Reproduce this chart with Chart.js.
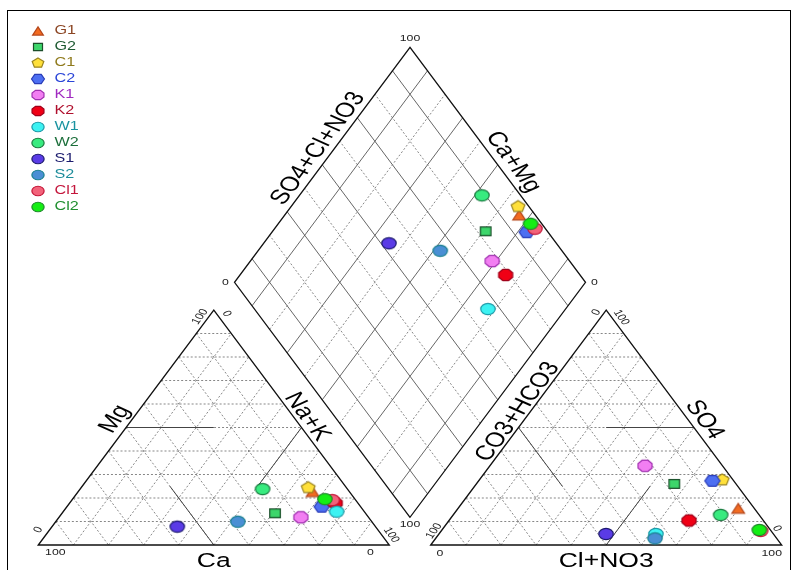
<!DOCTYPE html>
<html>
<head>
<meta charset="utf-8">
<title>Piper diagram</title>
<script src="https://cdn.jsdelivr.net/npm/chart.js@4.4.0/dist/chart.umd.min.js"></script>
<style>
  html, body { margin: 0; padding: 0; background: #fff; }
</style>
</head>
<body>
<canvas id="piper" width="797" height="570"></canvas>
<script>
// samples, drawn in this order (later ones end up on top)
const samples = ['G1', 'G2', 'C1', 'C2', 'K1', 'K2', 'W1', 'W2', 'S1', 'S2', 'Cl1', 'Cl2'];

// cations, % of meq/l
const caPct  = [10.5, 25.8, 10.9, 11.1, 19.3,  6.5,  7.9, 24.2, 56.5, 38.2,  6.7,  8.6];
const mgPct  = [22.7, 13.5, 24.4, 16.3, 11.8, 17.8, 14.2, 23.8,  7.8,  9.9, 19.1, 19.5];
const naKPct = [66.8, 60.7, 64.7, 72.6, 68.9, 75.7, 77.9, 52.0, 35.7, 51.9, 74.2, 71.9];

// anions, % of meq/l
const clNo3Pct   = [79.8, 56.4, 69.2, 66.6, 44.2, 68.4, 61.8, 76.2, 47.6, 62.5, 91.0, 90.4];
const so4Pct     = [15.6, 26.0, 27.7, 27.3, 33.7, 10.4,  4.7, 12.8,  4.7,  2.8,  6.0,  6.4];
const co3Hco3Pct = [ 4.6, 17.6,  3.1,  6.1, 22.1, 21.2, 33.5, 11.0, 47.7, 34.7,  3.0,  3.2];

// end labels on every axis
const tickLabels = ['0', '100'];

const markerShapes = ['triangle', 'square', 'pentagon', 'hexagon', 'octagon', 'octagon',
                      'circle', 'circle', 'circle', 'circle', 'circle', 'circle'];
const fillColors  = ['#f26b21', '#3dd66b', '#ffe03a', '#4d6ff2', '#f27ef2', '#f00015',
                     '#3cf2f2', '#38eb7f', '#5a3be6', '#4a8fd4', '#f2627a', '#14ee14'];
const edgeColors  = ['#b5461a', '#1b4d2a', '#9a8420', '#2a3db8', '#a030b0', '#a0001a',
                     '#1c9aa8', '#1b7a40', '#1d1a70', '#1a8090', '#c41436', '#1e8c2a'];
const labelColors = ['#8b4523', '#1e5a32', '#8f7a1c', '#2a45d8', '#a02ac0', '#b0102e',
                     '#1a93a0', '#1b6e3a', '#1c1c6e', '#1c8c9a', '#c4163c', '#1f8f2f'];

// ---- geometry: x in % of a triangle side, y in the same units (equilateral) ----
const H = Math.sqrt(3) / 2;
const GAP = 11.8;           // space between the two triangles
const OFF = 100 + GAP;      // left corner of the anion triangle

// page is wider than an equilateral layout would be
const PLOT_LEFT = 38.3, BASE_Y = 545, SIDE_PX = 351, HEIGHT_PX = 235;
const W = 797, HT = 570;
const XMIN = -PLOT_LEFT / (SIDE_PX / 100);
const XMAX = (W - PLOT_LEFT) / (SIDE_PX / 100);
const YMIN = -(HT - BASE_Y) / (HEIGHT_PX / (100 * H));
const YMAX = BASE_Y / (HEIGHT_PX / (100 * H));
const STRETCH = (SIDE_PX / 100) / (HEIGHT_PX / (100 * H));

function cationXY(ca, mg, na) { return { x: na + mg / 2, y: mg * H }; }
function anionXY(cl, so4, co3) { return { x: OFF + cl + so4 / 2, y: so4 * H }; }
// cm = Ca+Mg, sc = SO4+Cl+NO3
function diamondXY(cm, sc) {
  const u = cm / 100, v = sc / 100;
  return { x: 100 + GAP / 2 + 50 * (v - u), y: GAP * H + 100 * H * (u + v) };
}

// ---- markers ----
const markerSize = {
  circle:   [7.2, 5.6],
  square:   [5.3, 4.3],
  triangle: [6.3, 4.8],
  pentagon: [7.2, 6.0],
  hexagon:  [7.6, 6.3],
  octagon:  [7.6, 6.0]
};

function drawMarker(ctx, shape, cx, cy, k, fill, edge) {
  const rx = markerSize[shape][0] * k, ry = markerSize[shape][1] * k;
  ctx.beginPath();
  if (shape === 'circle') {
    ctx.ellipse(cx, cy, rx, ry, 0, 0, Math.PI * 2);
  } else if (shape === 'square') {
    ctx.rect(cx - rx, cy - ry, rx * 2, ry * 2);
  } else if (shape === 'triangle') {
    ctx.moveTo(cx, cy - ry);
    ctx.lineTo(cx + rx, cy + ry);
    ctx.lineTo(cx - rx, cy + ry);
    ctx.closePath();
  } else {
    const n = { pentagon: 5, hexagon: 6, octagon: 8 }[shape];
    const start = { pentagon: -90, hexagon: 0, octagon: 22.5 }[shape] * Math.PI / 180;
    for (let j = 0; j < n; j++) {
      const a = start + j * 2 * Math.PI / n;
      const x = cx + rx * Math.cos(a), y = cy + ry * Math.sin(a);
      if (j) ctx.lineTo(x, y); else ctx.moveTo(x, y);
    }
    ctx.closePath();
  }
  ctx.fillStyle = fill;
  ctx.fill();
  ctx.lineWidth = 1.2;
  ctx.strokeStyle = edge;
  ctx.stroke();
}

function markerImage(i) {
  const s = markerSize[markerShapes[i]];
  const c = document.createElement('canvas');
  c.width = Math.ceil(s[0]) * 2 + 4;
  c.height = Math.ceil(s[1]) * 2 + 4;
  drawMarker(c.getContext('2d'), markerShapes[i], c.width / 2, c.height / 2, 1,
             fillColors[i], edgeColors[i]);
  return c;
}

// ---- text helpers ----
function sText(ctx, str, x, y, deg, size, color, align) {
  ctx.save();
  ctx.translate(x, y);
  ctx.scale(STRETCH, 1);
  ctx.rotate(deg * Math.PI / 180);
  ctx.font = size + 'px Arial, "Liberation Sans", sans-serif';
  ctx.fillStyle = color || '#000';
  ctx.textAlign = align || 'center';
  ctx.textBaseline = 'middle';
  ctx.fillText(str, 0, 0);
  ctx.restore();
}

const piperFrame = {
  id: 'piperFrame',
  beforeDatasetsDraw(chart) {
    const ctx = chart.ctx;
    const xs = chart.scales.x, ys = chart.scales.y;
    const P = p => ({ x: xs.getPixelForValue(p.x), y: ys.getPixelForValue(p.y) });

    const seg = (a, b) => {
      const A = P(a), B = P(b);
      ctx.beginPath();
      ctx.moveTo(A.x, A.y);
      ctx.lineTo(B.x, B.y);
      ctx.stroke();
    };
    const along = (a, b, t, off) => {
      const A = P(a), B = P(b);
      const dx = B.x - A.x, dy = B.y - A.y, len = Math.hypot(dx, dy);
      return { x: A.x + t * dx + off * dy / len, y: A.y + t * dy - off * dx / len };
    };

    ctx.save();

    // triangle grids, every 10 %
    const triGrid = (xy) => {
      ctx.strokeStyle = '#7a7a7a';
      ctx.lineWidth = 0.9;
      ctx.setLineDash([2, 2]);
      for (let k = 10; k < 100; k += 10) {
        seg(xy(100 - k, k, 0), xy(0, k, 100 - k));
        seg(xy(k, 100 - k, 0), xy(k, 0, 100 - k));
        seg(xy(100 - k, 0, k), xy(0, 100 - k, k));
      }
      ctx.setLineDash([]);
    };
    triGrid(cationXY);                                    // (Ca, Mg, Na+K)
    triGrid((a, b, c) => anionXY(c, b, a));               // (CO3+HCO3, SO4, Cl+NO3)

    // 50 % lines
    ctx.strokeStyle = '#444';
    ctx.lineWidth = 1;
    seg(cationXY(50, 50, 0), cationXY(25, 50, 25));
    seg(cationXY(50, 0, 50), cationXY(50, 25, 25));
    seg(cationXY(0, 50, 50), cationXY(25, 25, 50));
    seg(anionXY(50, 50, 0), anionXY(25, 50, 25));
    seg(anionXY(50, 0, 50), anionXY(50, 25, 25));
    seg(anionXY(0, 50, 50), anionXY(25, 25, 50));

    // diamond grid: odd tens solid, even tens dashed
    for (let k = 10; k < 100; k += 10) {
      if ((k / 10) % 2) {
        ctx.strokeStyle = '#555';
        ctx.setLineDash([]);
      } else {
        ctx.strokeStyle = '#7a7a7a';
        ctx.setLineDash([2, 2]);
      }
      ctx.lineWidth = 0.9;
      seg(diamondXY(k, 0), diamondXY(k, 100));
      seg(diamondXY(0, k), diamondXY(100, k));
    }
    ctx.setLineDash([]);

    // outlines
    const cBL = cationXY(100, 0, 0), cT = cationXY(0, 100, 0), cBR = cationXY(0, 0, 100);
    const aBL = anionXY(0, 0, 100), aT = anionXY(0, 100, 0), aBR = anionXY(100, 0, 0);
    const dB = diamondXY(0, 0), dL = diamondXY(100, 0), dT = diamondXY(100, 100), dR = diamondXY(0, 100);
    ctx.strokeStyle = '#111';
    ctx.lineWidth = 1.3;
    ctx.lineJoin = 'miter';
    [[cBL, cT, cBR], [aBL, aT, aBR], [dB, dL, dT, dR]].forEach(poly => {
      ctx.beginPath();
      poly.forEach((p, j) => {
        const q = P(p);
        if (j) ctx.lineTo(q.x, q.y); else ctx.moveTo(q.x, q.y);
      });
      ctx.closePath();
      ctx.stroke();
    });

    // axis titles
    const TS = 20.5;
    let p;
    p = along(cBL, cT, 0.5, 14);    sText(ctx, 'Mg', p.x, p.y, -60, TS);
    p = along(cT, cBR, 0.482, 11);  sText(ctx, 'Na+K', p.x, p.y, 60, TS);
    p = along(aBL, aT, 0.541, 10);  sText(ctx, 'CO3+HCO3', p.x, p.y, -60, TS);
    p = along(aT, aBR, 0.5, 13);    sText(ctx, 'SO4', p.x, p.y, 60, TS);
    p = along(dL, dT, 0.536, 13);   sText(ctx, 'SO4+Cl+NO3', p.x, p.y, -60, TS);
    p = along(dT, dR, 0.524, 14);   sText(ctx, 'Ca+Mg', p.x, p.y, 60, TS);
    p = along(cBL, cBR, 0.5, -16);  sText(ctx, 'Ca', p.x, p.y, 0, TS);
    p = along(aBL, aBR, 0.5, -16);  sText(ctx, 'Cl+NO3', p.x, p.y, 0, TS);

    // end labels
    const lo = tickLabels[0], hi = tickLabels[1], FS = 9.5, tc = '#222';
    const at = (v, dx, dy, str, deg) => { const q = P(v); sText(ctx, str, q.x + dx, q.y + dy, deg, FS, tc); };
    at(cT, -13.8, 6.7, hi, -60);
    at(cT, 12.9, 3.7, lo, 60);
    at(cBL, 0, -15, lo, -60);
    at(cBL, 17, 7, hi, 0);
    at(cBR, -19, 7.5, lo, 0);
    at(cBR, 2, -10, hi, 60);
    at(aT, -10, 2.5, lo, -60);
    at(aT, 15, 7.5, hi, 60);
    at(aBL, 3.3, -14, hi, -60);
    at(aBL, 9.3, 8, lo, 0);
    at(aBR, -10, 8, hi, 0);
    at(aBR, -4.7, -16.5, lo, 60);
    at(dT, 0, -9, hi, 0);
    at(dL, -9, 0, lo, 0);
    at(dR, 9, 0, lo, 0);
    at(dB, 0, 7.5, hi, 0);

    ctx.restore();
  },
  afterDraw(chart) {
    const ctx = chart.ctx;
    ctx.save();
    // legend
    samples.forEach((name, i) => {
      const y = 31 + i * 16;
      drawMarker(ctx, markerShapes[i], 38, y, 0.85, fillColors[i], edgeColors[i]);
      sText(ctx, name, 54.5, y, 0, 12.5, labelColors[i], 'left');
    });
    // frame
    ctx.strokeStyle = '#000';
    ctx.lineWidth = 1;
    ctx.strokeRect(7.5, 10.5, 783, 600);
    ctx.restore();
  }
};

const datasets = samples.map((name, i) => ({
  label: name,
  data: [
    cationXY(caPct[i], mgPct[i], naKPct[i]),
    anionXY(clNo3Pct[i], so4Pct[i], co3Hco3Pct[i]),
    diamondXY(caPct[i] + mgPct[i], so4Pct[i] + clNo3Pct[i])
  ],
  pointStyle: markerImage(i),
  pointRadius: 7,
  order: samples.length - i
}));

new Chart(document.getElementById('piper'), {
  type: 'scatter',
  data: { datasets },
  options: {
    responsive: false,
    animation: false,
    events: [],
    layout: { padding: 0, autoPadding: false },
    scales: {
      x: { type: 'linear', display: false, min: XMIN, max: XMAX },
      y: { type: 'linear', display: false, min: YMIN, max: YMAX }
    },
    plugins: {
      legend: { display: false },
      tooltip: { enabled: false }
    }
  },
  plugins: [piperFrame]
});
</script>
</body>
</html>
